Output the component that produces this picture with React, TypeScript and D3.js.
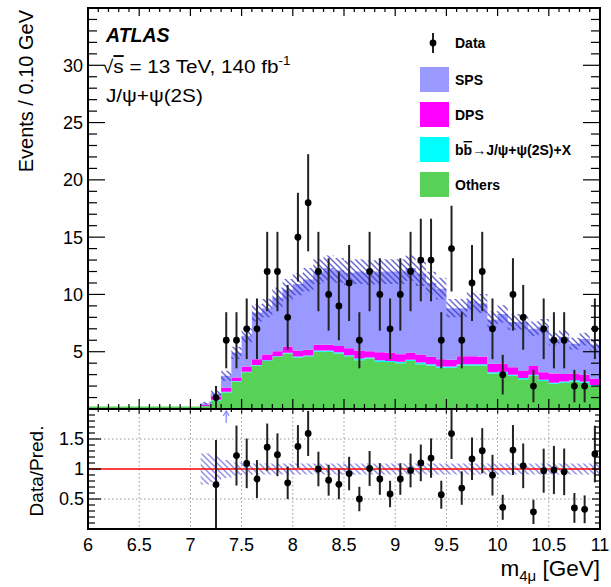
import React from 'react';
import * as d3 from 'd3';

// ---- data (bin centres, 0.1 GeV wide) ----
const massBins = [7.05, 7.15, 7.25, 7.35, 7.45, 7.55, 7.65, 7.75, 7.85, 7.95,
  8.05, 8.15, 8.25, 8.35, 8.45, 8.55, 8.65, 8.75, 8.85, 8.95,
  9.05, 9.15, 9.25, 9.35, 9.45, 9.55, 9.65, 9.75, 9.85, 9.95,
  10.05, 10.15, 10.25, 10.35, 10.45, 10.55, 10.65, 10.75, 10.85, 10.95];
const dataCounts = [0, 0, 1, 6, 6, 7, 7, 12, 12, 8,
  15, 18, 12, 10, 9, 11, 6, 12, 10, 7,
  10, 12, 13, 13, 6, 14, 6, 11, 12, 7,
  3, 10, 8, 2, 7, 6, 6, 2, 2, 7];
const others = [0.08, 0.25, 0.75, 1.45, 2.4, 3.2, 3.8, 4.2, 4.55, 4.85,
  4.5, 4.6, 5.0, 5.0, 4.85, 4.6, 4.25, 4.4, 4.1, 4.1,
  4.0, 4.2, 3.9, 3.8, 3.6, 3.6, 3.8, 3.8, 3.8, 3.1,
  3.1, 2.9, 2.6, 2.9, 2.45, 2.2, 2.3, 2.4, 2.3, 2.0];
const bbbar = [0, 0.02, 0.05, 0.05, 0.05, 0.05, 0.05, 0.05, 0.05, 0.05,
  0.08, 0.08, 0.1, 0.1, 0.1, 0.1, 0.15, 0.1, 0.15, 0.1,
  0.12, 0.1, 0.15, 0.1, 0.1, 0.1, 0.1, 0.1, 0.1, 0.1,
  0.15, 0.1, 0.1, 0.1, 0.1, 0.1, 0.1, 0.1, 0.1, 0.1];
const dpsVals = [0.02, 0.1, 0.3, 0.35, 0.3, 0.45, 0.5, 0.5, 0.45, 0.55,
  0.5, 0.5, 0.5, 0.5, 0.55, 0.6, 0.7, 0.55, 0.7, 0.7,
  0.65, 0.6, 0.7, 0.65, 0.65, 0.6, 0.7, 0.7, 0.65, 0.75,
  0.7, 0.65, 0.65, 0.75, 0.65, 0.8, 0.65, 0.6, 0.6, 0.55];
const spsVals = [0.02, 0.13, 0.25, 1.05, 2.15, 2.7, 4.05, 4.05, 4.65, 4.95,
  5.82, 6.12, 6.4, 6.7, 6.6, 6.6, 6.9, 6.85, 7.05, 7.1,
  7.23, 7.4, 7.05, 6.45, 6.15, 4.5, 4.2, 4.8, 4.65, 3.85,
  4.35, 3.95, 4.25, 3.25, 4.0, 3.0, 3.25, 2.6, 3.1, 2.95];
const relUnc = [0, 0.26, 0.22, 0.15, 0.11, 0.1, 0.09, 0.09, 0.09, 0.09,
  0.09, 0.09, 0.09, 0.09, 0.09, 0.09, 0.09, 0.09, 0.09, 0.09,
  0.09, 0.09, 0.09, 0.09, 0.09, 0.09, 0.09, 0.09, 0.09, 0.09,
  0.09, 0.09, 0.09, 0.09, 0.09, 0.09, 0.09, 0.09, 0.09, 0.09];
const xTickValues = [6, 6.5, 7, 7.5, 8, 8.5, 9, 9.5, 10, 10.5, 11];
const xTickLabels = ['6', '6.5', '7', '7.5', '8', '8.5', '9', '9.5', '10', '10.5', '11'];
const mainYTicks = [5, 10, 15, 20, 25, 30];
const ratioYTicks = [0.5, 1, 1.5];
const ratioYLabels = ['0.5', '1', '1.5'];
const legendItems = [
  { key: 'sps', label: 'SPS', color: '#9999ff' },
  { key: 'dps', label: 'DPS', color: '#ff00ff' },
  { key: 'bb', label: 'bb', color: '#00ffff' },
  { key: 'others', label: 'Others', color: '#57d257' },
];

const W = 611, H = 587;
const L = 88, R = 600;
const mainTop = 8, mainBot = 409;
const ratioTop = 409, ratioBot = 529;
const BW = 0.1;
const FONT = 'Liberation Sans, Arial, Helvetica, sans-serif';
const colors: Record<string, string> = { others: '#57d257', bb: '#00ffff', dps: '#ff00ff', sps: '#9999ff' };

export default function App() {
  const x = d3.scaleLinear().domain([6, 11]).range([L, R]);
  const y = d3.scaleLinear().domain([0, 35]).range([mainBot, mainTop]);
  const yr = d3.scaleLinear().domain([0, 2]).range([ratioBot, ratioTop]);

  const rows = massBins.map((c, i) => ({ c, others: others[i], bb: bbbar[i], dps: dpsVals[i], sps: spsVals[i] }));
  const stacked = d3.stack<any>().keys(['others', 'bb', 'dps', 'sps'])(rows);
  const totals = rows.map(r => r.others + r.bb + r.dps + r.sps);

  const area = d3.area<[number, number, number]>().x(d => d[0]).y0(d => d[1]).y1(d => d[2]);
  const stepPts = (lo: number[], hi: number[], ys: (v: number) => number, idx: number[]) => {
    const pts: [number, number, number][] = [];
    idx.forEach(i => {
      pts.push([x(massBins[i] - BW / 2), ys(lo[i]), ys(hi[i])]);
      pts.push([x(massBins[i] + BW / 2), ys(lo[i]), ys(hi[i])]);
    });
    return pts;
  };
  const allIdx = massBins.map((_, i) => i);
  const bandIdx = allIdx.filter(i => relUnc[i] > 0);

  const layerPaths = stacked.map(s => {
    const lo = s.map(d => d[0]);
    const hi = s.map(d => d[1]);
    return { key: s.key, d: area(stepPts(lo, hi, y, allIdx)) || '' };
  });
  const bandLo = totals.map((t, i) => t * (1 - relUnc[i]));
  const bandHi = totals.map((t, i) => t * (1 + relUnc[i]));
  const mainBand = area(stepPts(bandLo, bandHi, y, bandIdx)) || '';
  const ratioBand = area(stepPts(relUnc.map(u => 1 - u), relUnc.map(u => 1 + u), yr, bandIdx)) || '';

  const pts = allIdx.filter(i => dataCounts[i] > 0).map(i => {
    const n = dataCounts[i];
    const e = Math.sqrt(n);
    return { c: massBins[i], n, lo: Math.max(0, n - e), hi: n + e, r: n / totals[i], rlo: (n - e) / totals[i], rhi: (n + e) / totals[i] };
  });

  const xMinor = d3.range(60, 111).map(v => v / 10);
  const yMinor = d3.range(1, 35).map(v => v);
  const rMinor = d3.range(1, 20).map(v => v / 10);

  const textStyle = { fontFamily: FONT, fill: '#000' } as React.CSSProperties;

  return (
    <svg width={W} height={H} style={{ position: 'absolute', left: 0, top: 0, background: '#fff' }}>
      <defs>
        <pattern id="hatch" patternUnits="userSpaceOnUse" width="6" height="6">
          <path d="M-1,-1 L7,7 M-1,5 L1,7 M5,-1 L7,1" stroke="#3535c0" strokeWidth="1.5" strokeOpacity="0.75" />
        </pattern>
        <pattern id="hatch2" patternUnits="userSpaceOnUse" width="6" height="6">
          <path d="M-1,-1 L7,7 M-1,5 L1,7 M5,-1 L7,1" stroke="#6a6ae0" strokeWidth="1.5" strokeOpacity="0.75" />
        </pattern>
        <clipPath id="clipMain"><rect x={L} y={mainTop} width={R - L} height={mainBot - mainTop} /></clipPath>
        <clipPath id="clipRatio"><rect x={L} y={ratioTop} width={R - L} height={ratioBot - ratioTop} /></clipPath>
      </defs>
      <rect width={W} height={H} fill="#fff" />

      {/* ---------- main panel ---------- */}
      <g clipPath="url(#clipMain)">
        {layerPaths.map(p => <path key={p.key} d={p.d} fill={colors[p.key]} stroke="none" />)}
        <line x1={x(6)} x2={x(11)} y1={y(0) - 1.5} y2={y(0) - 1.5} stroke={colors.others} strokeWidth={2} />
        <path d={mainBand} fill="url(#hatch)" />
        {pts.map(p => (
          <g key={p.c}>
            <line x1={x(p.c)} x2={x(p.c)} y1={y(p.lo)} y2={y(p.hi)} stroke="#222" strokeWidth={2} />
            <circle cx={x(p.c)} cy={y(p.n)} r={3.4} fill="#000" />
          </g>
        ))}
      </g>

      {/* main ticks */}
      <g stroke="#000" strokeWidth={1.2}>
        {xMinor.map((v, i) => {
          const major = Math.abs(v * 2 - Math.round(v * 2)) < 1e-6;
          return (
            <g key={'xm' + i}>
              <line x1={x(v)} x2={x(v)} y1={mainBot} y2={mainBot - (major ? 10 : 5)} />
              <line x1={x(v)} x2={x(v)} y1={mainTop} y2={mainTop + (major ? 8 : 4)} />
              <line x1={x(v)} x2={x(v)} y1={ratioTop} y2={ratioTop + (major ? 5 : 3)} />
            </g>
          );
        })}
        {yMinor.map(v => {
          const major = v % 5 === 0;
          const len = major ? 17 : 9;
          return (
            <g key={'ym' + v}>
              <line x1={L} x2={L + len} y1={y(v)} y2={y(v)} />
              <line x1={R} x2={R - len} y1={y(v)} y2={y(v)} />
            </g>
          );
        })}
      </g>
      {mainYTicks.map(v => (
        <text key={'yl' + v} x={83} y={y(v)} dy="0.36em" textAnchor="end" fontSize={18} style={textStyle}>{v}</text>
      ))}

      {/* ---------- ratio panel ---------- */}
      <g stroke="#999" strokeWidth={1} strokeDasharray="1.5,2.5">
        {xTickValues.slice(1, -1).map(v => (
          <line key={'gx' + v} x1={x(v)} x2={x(v)} y1={ratioTop} y2={ratioBot} />
        ))}
        {[0.5, 1.5].map(v => (
          <line key={'gy' + v} x1={L} x2={R} y1={yr(v)} y2={yr(v)} />
        ))}
      </g>
      <g clipPath="url(#clipRatio)">
        <path d={ratioBand} fill="url(#hatch2)" />
        <line x1={L} x2={R} y1={yr(1)} y2={yr(1)} stroke="#ff0000" strokeWidth={1.6} />
        {pts.map(p => (
          p.r <= 2 ? (
            <g key={'r' + p.c}>
              <line x1={x(p.c)} x2={x(p.c)} y1={yr(p.rlo)} y2={yr(Math.min(p.rhi, 2.05))} stroke="#222" strokeWidth={2} />
              <circle cx={x(p.c)} cy={yr(p.r)} r={3.4} fill="#000" />
            </g>
          ) : (
            <g key={'r' + p.c} stroke="#8c8cff" strokeWidth={1.3} fill="none">
              <line x1={x(p.c)} x2={x(p.c)} y1={ratioTop + 14} y2={ratioTop + 2} />
              <path d={`M${x(p.c) - 3},${ratioTop + 7} L${x(p.c)},${ratioTop + 2} L${x(p.c) + 3},${ratioTop + 7}`} />
            </g>
          )
        ))}
      </g>
      <g stroke="#000" strokeWidth={1.2}>
        {rMinor.map((v, i) => {
          const major = i % 5 === 4;
          const len = major ? 13 : 7;
          return (
            <g key={'rm' + i}>
              <line x1={L} x2={L + len} y1={yr(v)} y2={yr(v)} />
              <line x1={R} x2={R - (major ? 8 : 5)} y1={yr(v)} y2={yr(v)} />
            </g>
          );
        })}
      </g>
      {ratioYTicks.map((v, i) => (
        <text key={'rl' + v} x={84} y={yr(v)} dy="0.36em" textAnchor="end" fontSize={18} style={textStyle}>{ratioYLabels[i]}</text>
      ))}
      {xTickValues.map((v, i) => (
        <text key={'xl' + v} x={x(v)} y={551} textAnchor="middle" fontSize={18} style={textStyle}>{xTickLabels[i]}</text>
      ))}

      {/* frames */}
      <rect x={L} y={mainTop} width={R - L} height={mainBot - mainTop} fill="none" stroke="#000" strokeWidth={2} />
      <rect x={L} y={ratioTop} width={R - L} height={ratioBot - ratioTop} fill="none" stroke="#000" strokeWidth={2} />

      {/* axis titles */}
      <text transform={`translate(33,10) rotate(-90)`} textAnchor="end" fontSize={20} style={textStyle}>Events / 0.10 GeV</text>
      <text transform={`translate(43,471) rotate(-90)`} textAnchor="middle" fontSize={19} style={textStyle}>Data/Pred.</text>
      <text x={600} y={576} textAnchor="end" fontSize={22.5} style={textStyle}>
        m<tspan fontSize={15} dy={5}>4μ</tspan><tspan dy={-5}> [GeV]</tspan>
      </text>

      {/* labels */}
      <text x={106} y={42} fontSize={19.5} fontWeight="bold" fontStyle="italic" style={textStyle}>ATLAS</text>
      <g transform="translate(102,73) scale(1.12,1)">
        <text x={0} y={0} fontSize={18.5} style={textStyle}>
          √<tspan style={{ textDecoration: 'overline' }}>s</tspan> = 13 TeV, 140 fb<tspan fontSize={12} dy={-8}>-1</tspan>
        </text>
      </g>
      <g transform="translate(106,102) scale(1.12,1)">
        <text x={0} y={0} fontSize={18.5} style={textStyle}>J/ψ+ψ(2S)</text>
      </g>

      {/* legend */}
      <line x1={433} x2={433} y1={33} y2={53} stroke="#222" strokeWidth={2} />
      <circle cx={433} cy={43} r={3.4} fill="#000" />
      <text x={455} y={48} fontSize={14} fontWeight="bold" style={textStyle}>Data</text>
      {legendItems.map((it, i) => (
        <g key={it.key}>
          <rect x={420} y={67 + i * 35} width={29} height={25} fill={it.color} />
          {it.key === 'bb' ? (
            <text x={455} y={85 + i * 35} fontSize={14} fontWeight="bold" style={textStyle}>
              b<tspan style={{ textDecoration: 'overline' }}>b</tspan><tspan fontWeight="normal">→</tspan>J/ψ+ψ(2S)+X
            </text>
          ) : (
            <text x={455} y={85 + i * 35} fontSize={14} fontWeight="bold" style={textStyle}>{it.label}</text>
          )}
        </g>
      ))}
    </svg>
  );
}
